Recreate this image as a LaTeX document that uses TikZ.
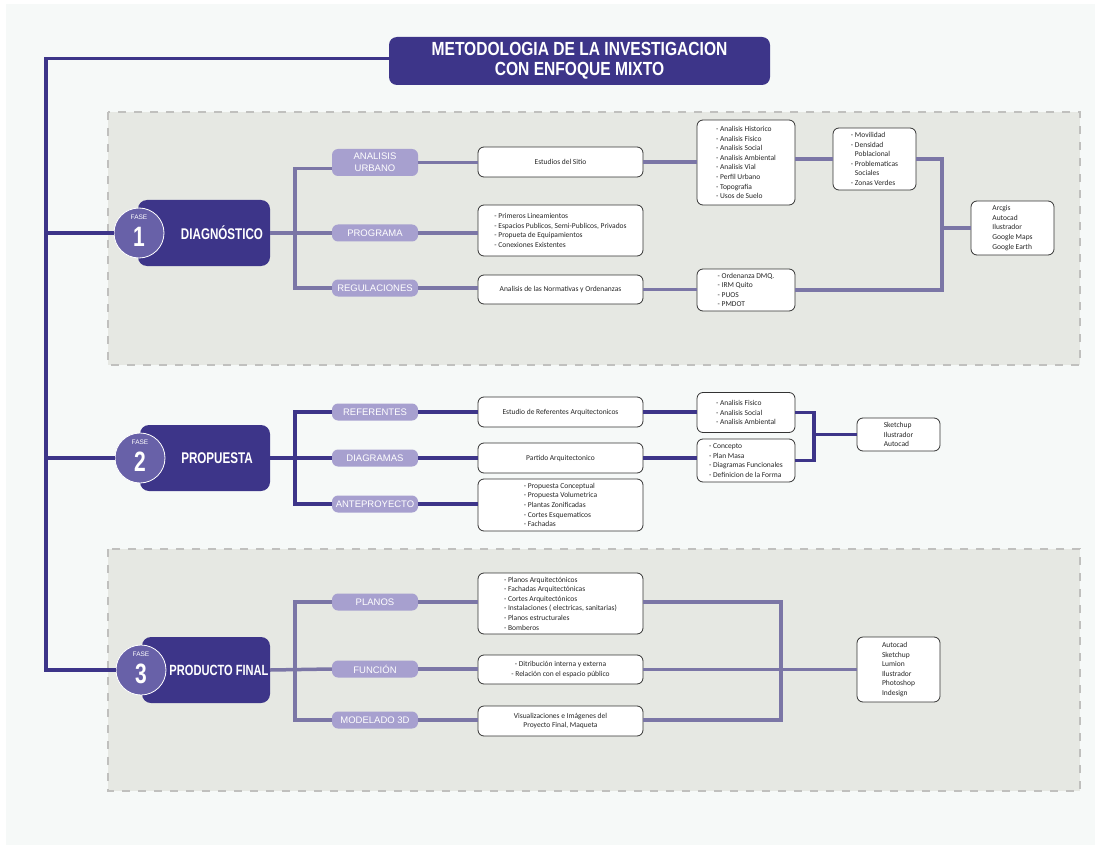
\documentclass[tikz,border=0pt]{standalone}
\usepackage{fontspec}
\setmainfont{Carlito}
\newfontfamily\pillfont{Liberation Sans}
\newfontfamily\headfont[FakeStretch=0.75]{Liberation Sans}
\newfontfamily\titlefont[FakeStretch=0.82]{Liberation Sans}
\usetikzlibrary{positioning, calc}
\definecolor{fasecolor}{RGB}{61,53,137}
\definecolor{circcolor}{RGB}{104,97,168}
\definecolor{pillcolor}{RGB}{167,160,207}
\definecolor{linkcolor}{RGB}{123,118,166}
\definecolor{panelcolor}{RGB}{230,232,227}
\definecolor{pagecolor}{RGB}{246,249,248}
\definecolor{dashcolor}{RGB}{192,192,190}

\begin{document}
\begin{tikzpicture}[
    x=1pt, y=-1pt,
    title/.style={rectangle, rounded corners=8pt, fill=fasecolor, text=white, font=\titlefont\bfseries\fontsize{19}{20}\selectfont, align=center, minimum width=381pt, minimum height=48pt, inner sep=0pt},
    fasebox/.style={rectangle, rounded corners=9pt, fill=fasecolor, minimum height=66pt, inner sep=0pt},
    fasecirc/.style={circle, fill=circcolor, draw=white, line width=0.8pt, minimum size=50pt, inner sep=0pt},
    fasetag/.style={text=white, font=\pillfont\fontsize{6.5}{7}\selectfont, inner sep=0pt},
    fasenum/.style={text=white, font=\headfont\bfseries\fontsize{28}{28}\selectfont, inner sep=0pt},
    fasename/.style={text=white, font=\headfont\bfseries\fontsize{15.5}{16}\selectfont, inner sep=0pt},
    pill/.style={rectangle, rounded corners=6pt, fill=pillcolor, text=white, font=\pillfont\fontsize{9.5}{12}\selectfont, align=center, minimum width=86pt, minimum height=17pt, inner sep=0pt},
    item/.style={rectangle, rounded corners=6pt, draw=black!80, fill=white, line width=0.8pt, text=black!85, font=\fontsize{7.5}{9.6}\selectfont, align=left, inner sep=0pt},
    link/.style={draw=linkcolor, line width=3.5pt},
    darklink/.style={draw=fasecolor, line width=3.5pt},
    panel/.style={fill=panelcolor, draw=dashcolor, line width=1.5pt, dash pattern=on 8pt off 8pt}
]

    % page and grey panels
    \useasboundingbox (0,0) rectangle (1095,845);
    \fill[white] (0,0) rectangle (1095,845);
    \fill[pagecolor] (6,4) rectangle (1095,845);
    \draw[panel] (108,112) rectangle (1080,365);
    \draw[panel] (108,549) rectangle (1080,791);

    % Title
    \node[title] (title) at (579.5,61) {METODOLOGIA DE LA INVESTIGACION\\CON ENFOQUE MIXTO};

    % FASE 1 - Diagnostico
    \node[fasebox, minimum width=132pt] (fase1) at (204,233) {};
    \node[fasecirc] (circ1) at (139,233) {};
    \node[fasetag] (tag1) at ([yshift=16pt]circ1.center) {FASE};
    \node[fasenum] (num1) at ([yshift=-4pt]circ1.center) {1};
    \node[fasename] (name1) at (222,233) {DIAGNÓSTICO};

    \node[pill, minimum height=27pt] (urbano) at (375,162.5) {ANALISIS\\URBANO};
    \node[pill] (programa) at (375,233) {PROGRAMA};
    \node[pill] (regul) at (375,288) {REGULACIONES};

    \node[item, align=center, minimum width=165pt, minimum height=30pt] (sitio) at (560.5,162) {Estudios del Sitio};
    \node[item, minimum width=165pt, minimum height=51pt] (lineam) at (560.5,230.5) {- Primeros Lineamientos\\- Espacios Publicos, Semi-Publicos, Privados\\- Propueta de Equipamientos\\- Conexiones Existentes};
    \node[item, align=center, minimum width=165pt, minimum height=29pt] (normas) at (560.5,289.5) {Analisis de las Normativas y Ordenanzas};

    \node[item, minimum width=98pt, minimum height=85pt] (analisis) at (746,162.5) {- Analisis Historico\\- Analisis Fisico\\- Analisis Social\\- Analisis Ambiental\\- Analisis Vial\\- Perfil Urbano\\- Topografia\\- Usos de Suelo};
    \node[item, minimum width=98pt, minimum height=42pt] (ordenanza) at (746,290) {- Ordenanza DMQ.\\- IRM Quito\\- PUOS\\- PMDOT};
    \node[item, minimum width=83pt, minimum height=62pt] (movil) at (874.5,159) {- Movilidad\\- Densidad\\\phantom{- }Poblacional\\- Problematicas\\\phantom{- }Sociales\\- Zonas Verdes};
    \node[item, minimum width=83pt, minimum height=54pt] (soft1) at (1012.5,228) {Arcgis\\Autocad\\Ilustrador\\Google Maps\\Google Earth};

    \coordinate (br1) at (295,233);
    \coordinate (br1r) at (942,228);
    \draw[link] (fase1.east) -- (programa.west);
    \draw[link] ([yshift=-6pt]urbano.west) -| (br1) |- (regul.west);
    \draw[link] (urbano.east) -- (urbano.east -| sitio.west);
    \draw[link] (programa.east) -- (programa.east -| lineam.west);
    \draw[link] (regul.east) -- (regul.east -| normas.west);
    \draw[link] (sitio.east) -- (sitio.east -| analisis.west);
    \draw[link] (normas.east) -- (normas.east -| ordenanza.west);
    \draw[link] (analisis.east |- movil.west) -- (movil.west);
    \draw[link] (movil.east) -| (br1r) |- (ordenanza.east);
    \draw[link] (br1r) -- (br1r -| soft1.west);

    % FASE 2 - Propuesta
    \node[fasebox, minimum width=130pt] (fase2) at (205,458) {};
    \node[fasecirc] (circ2) at (140,458) {};
    \node[fasetag] (tag2) at ([yshift=16pt]circ2.center) {FASE};
    \node[fasenum] (num2) at ([yshift=-4pt]circ2.center) {2};
    \node[fasename] (name2) at (217,458) {PROPUESTA};

    \node[pill] (refer) at (375,412) {REFERENTES};
    \node[pill] (diagr) at (375,458) {DIAGRAMAS};
    \node[pill] (antep) at (375,504) {ANTEPROYECTO};

    \node[item, align=center, minimum width=165pt, minimum height=30pt] (estref) at (560.5,412) {Estudio de Referentes Arquitectonicos};
    \node[item, align=center, minimum width=165pt, minimum height=30pt] (partido) at (560.5,458) {Partido Arquitectonico};
    \node[item, minimum width=165pt, minimum height=52pt] (propu) at (560.5,505) {- Propuesta Conceptual\\- Propuesta Volumetrica\\- Plantas Zonificadas\\- Cortes Esquematicos\\- Fachadas};

    \node[item, minimum width=98pt, minimum height=40pt] (fisico) at (746,412.5) {- Analisis Fisico\\- Analisis Social\\- Analisis Ambiental};
    \node[item, minimum width=98pt, minimum height=43pt] (concepto) at (746,460.5) {- Concepto\\- Plan Masa\\- Diagramas Funcionales\\- Definicion de la Forma};
    \node[item, minimum width=83pt, minimum height=33pt] (soft2) at (898.5,434.5) {Sketchup\\Ilustrador\\Autocad};

    \coordinate (br2) at (295,458);
    \coordinate (br2r) at (814,434.5);
    \draw[darklink] (fase2.east) -- (diagr.west);
    \draw[darklink] (refer.west) -| (br2) |- (antep.west);
    \draw[darklink] (refer.east) -- (refer.east -| estref.west);
    \draw[darklink] (diagr.east) -- (diagr.east -| partido.west);
    \draw[darklink] (antep.east) -- (antep.east -| propu.west);
    \draw[darklink] (estref.east) -- (estref.east -| fisico.west);
    \draw[darklink] (partido.east) -- (partido.east -| concepto.west);
    \draw[darklink] (fisico.east) -| (br2r) |- (concepto.east);
    \draw[darklink] (br2r) -- (soft2.west);

    % FASE 3 - Producto final
    \node[fasebox, minimum width=128pt] (fase3) at (206,670) {};
    \node[fasecirc] (circ3) at (141,670) {};
    \node[fasetag] (tag3) at ([yshift=16pt]circ3.center) {FASE};
    \node[fasenum] (num3) at ([yshift=-4pt]circ3.center) {3};
    \node[fasename, font=\headfont\bfseries\fontsize{14.8}{16}\selectfont] (name3) at (219,670) {PRODUCTO FINAL};

    \node[pill] (planos) at (375,602) {PLANOS};
    \node[pill] (funcion) at (375,669) {FUNCIÓN};
    \node[pill] (modelado) at (375,720) {MODELADO 3D};

    \node[item, minimum width=165pt, minimum height=61pt] (listpl) at (560.5,603.5) {- Planos Arquitectónicos\\- Fachadas Arquitectónicas\\- Cortes Arquitectónicos\\- Instalaciones ( electricas, sanitarias)\\- Planos estructurales\\- Bomberos};
    \node[item, align=center, minimum width=165pt, minimum height=29pt] (distrib) at (560.5,669.5) {- Ditribución interna y externa\\- Relación con el espacio público};
    \node[item, align=center, minimum width=165pt, minimum height=30pt] (visual) at (560.5,721) {Visualizaciones e Imágenes del\\Proyecto Final, Maqueta};
    \node[item, minimum width=83pt, minimum height=65pt] (soft3) at (898.5,669.5) {Autocad\\Sketchup\\Lumion\\Ilustrador\\Photoshop\\Indesign};

    \coordinate (br3) at (295,669.5);
    \coordinate (br3r) at (781,669.5);
    \draw[link] (fase3.east) -- (funcion.west);
    \draw[link] (planos.west) -| (br3) |- (modelado.west);
    \draw[link] (planos.east) -- (planos.east -| listpl.west);
    \draw[link] (funcion.east) -- (funcion.east -| distrib.west);
    \draw[link] (modelado.east) -- (modelado.east -| visual.west);
    \draw[link] (listpl.east |- planos.east) -| (br3r) |- (visual.east |- modelado.east);
    \draw[link] (distrib.east) -- (soft3.west);

    % trunk line from the title to each phase
    \coordinate (trunk) at (46,0);
    \draw[darklink] ([yshift=2.5pt]title.west) -| (trunk |- circ3) -- (circ3.west);
    \draw[darklink] (trunk |- circ1) -- (circ1.west);
    \draw[darklink] (trunk |- circ2) -- (circ2.west);

\end{tikzpicture}
\end{document}
